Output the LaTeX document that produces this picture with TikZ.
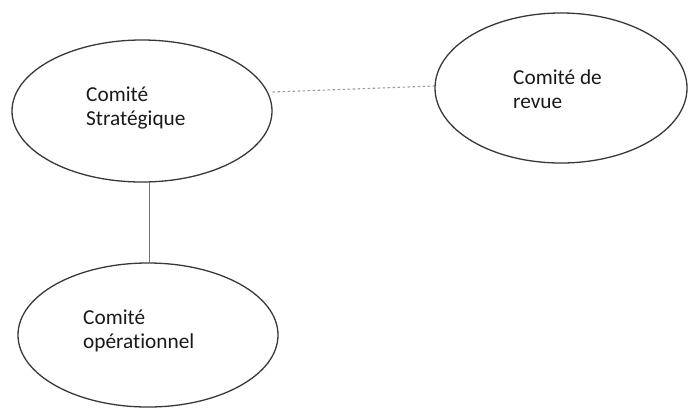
\documentclass[tikz,border=0pt]{standalone}
\usepackage{fontspec}
\setmainfont{Carlito}[RawFeature=-liga]
\usetikzlibrary{shapes.geometric}
\begin{document}
\begin{tikzpicture}[x=1bp,y=-1bp,
  comite/.style={draw=black!78,line width=1.3bp,ellipse,inner sep=0pt},
  lbl/.style={anchor=base west,inner sep=0pt,align=left,text=black!90,
    font=\fontsize{21.3bp}{23.5bp}\selectfont},
  link/.style={draw=black!55,line width=0.9bp},
  dotlink/.style={draw=black!40,line width=1.1bp,dash pattern=on 2.5bp off 2.5bp}]
\useasboundingbox (0,0) rectangle (688,410);
\node[comite,minimum width=260bp,minimum height=142bp] (strat) at (142,111) {};
\node[comite,minimum width=252bp,minimum height=150bp] (revue) at (561,88) {};
\node[comite,minimum width=260bp,minimum height=144bp] (oper) at (148,335) {};
\node[lbl] (tstrat) at (86,125) {Comité\\Stratégique};
\node[lbl] (trevue) at (513,108) {Comité de\\revue};
\node[lbl] (toper) at (83,348) {Comité\\opérationnel};
\draw[link] (strat.south -| 149,0) -- (oper.north -| 149,0);
\draw[dotlink] (strat.east |- 0,92) -- (revue.west |- 0,86);
\end{tikzpicture}
\end{document}
